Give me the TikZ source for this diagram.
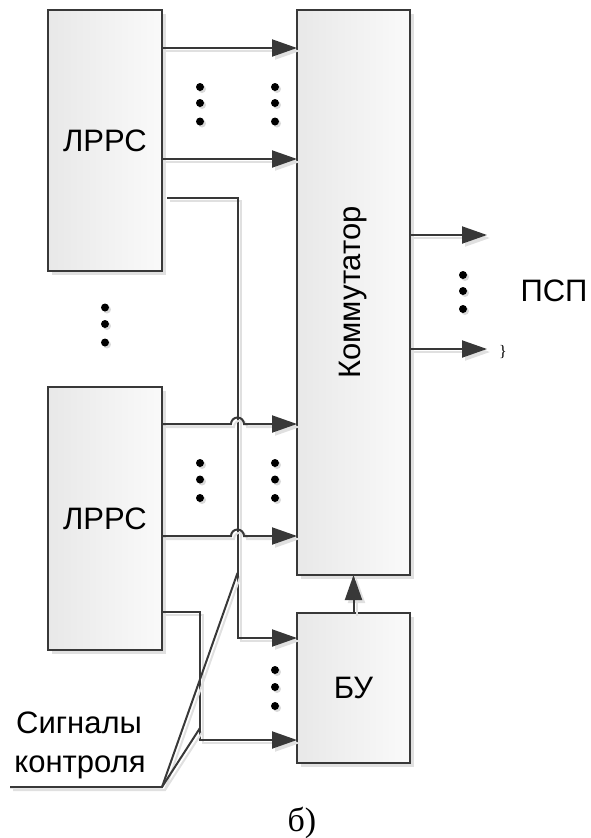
\documentclass[tikz,border=0pt]{standalone}
\usepackage{fontspec}
\setmainfont{Liberation Sans}
\newfontfamily\serifcyr{Liberation Serif}
\usetikzlibrary{arrows.meta,shadows}
\definecolor{lc}{HTML}{383838}
\begin{document}
\begin{tikzpicture}[x=1pt,y=-1pt,
  box/.style={draw=lc, line width=2pt, rectangle, inner sep=0pt, outer sep=0pt,
    left color=black!9, right color=black!2,
    drop shadow={shadow xshift=4pt, shadow yshift=-4pt, fill=black!12, opacity=1},
    font=\fontsize{31}{36}\selectfont},
  ln/.style={draw=lc, line width=2pt,
    preaction={draw=black!12, line width=2pt, transform canvas={shift={(3pt,-3pt)}}}},
  arr/.style={-{Triangle[length=25pt,width=17pt]}},
  lbl/.style={font=\fontsize{31}{36}\selectfont, inner sep=0pt, anchor=base},
  dotc/.style={fill=black},
  dots/.style={fill=black!15}
]
\useasboundingbox (0,0) rectangle (591,838);

% blocks
\node[box, minimum width=114pt, minimum height=261pt] (l1) at (105,140.5) {ЛРРС};
\node[box, minimum width=114pt, minimum height=263pt] (l2) at (105,518.5) {ЛРРС};
\node[box, minimum width=113pt, minimum height=565pt] (k) at (353.5,292.5) {\rotatebox{90}{Коммутатор}};
\node[box, minimum width=113pt, minimum height=150pt] (b) at (353.5,688) {БУ};

% free ends
\coordinate (o1) at (487,235);
\coordinate (o2) at (487,349);
\coordinate (s0) at (10,787);
\coordinate (s1) at (162,787);
\coordinate (s2) at (237.5,573);
\coordinate (s3) at (200,728);

% LRPC 1 -> commutator
\draw[ln, arr] (l1.east |- 0,48) -- (k.west |- 0,48);
\draw[ln, arr] (l1.east |- 0,159) -- (k.west |- 0,159);
% LRPC 1 control -> BU
\draw[ln, arr] ([xshift=5pt]l1.east |- 0,198) -- (237.5,198) -- (237.5,638) -- (b.west |- 0,638);
% LRPC 2 -> commutator (with hops)
\draw[ln, arr] (l2.east |- 0,424) -- (231,424) arc[start angle=180,end angle=0,radius=6.5pt] -- (k.west |- 0,424);
\draw[ln, arr] (l2.east |- 0,536) -- (231,536) arc[start angle=180,end angle=0,radius=6.5pt] -- (k.west |- 0,536);
% LRPC 2 control -> BU
\draw[ln, arr] (l2.east |- 0,612) -- (200,612) -- (200,740) -- (b.west |- 0,740);
% BU -> commutator
\draw[ln, arr] (b.north) -- (k.south);
% outputs
\draw[ln, arr] (k.east |- o1) -- (o1);
\draw[ln, arr] (k.east |- o2) -- (o2);
% signal lines
\draw[ln] (s0) -- (s1) -- (s2);
\draw[ln] (s1) -- (s3);

% dots
\foreach \x/\y in {200/87,200/103,200/121.5,275/87,275/103,275/121.5,
                   105/307.5,105/324,105/342.5,
                   200/463,200/479.5,200/498,275/463,275/479.5,275/498,
                   275/670,275/687,275/706,
                   463/275,463/291,463/309}{
  \fill[dots] (\x+2,\y+2) circle[radius=4pt];
  \fill[dotc] (\x,\y) circle[radius=4pt];
}

% labels
\node[lbl] (psp) at (554,301) {ПСП};
\node[lbl] (sig1) at (79,733) {Сигналы};
\node[lbl] (sig2) at (80,772) {контроля};
\node[lbl, font=\serifcyr\fontsize{34}{40}\selectfont] (cap) at (302,831) {б)};
\node[lbl, font=\serifcyr\fontsize{16}{18}\selectfont] (mark) at (503,356) {\}};
\end{tikzpicture}
\end{document}
